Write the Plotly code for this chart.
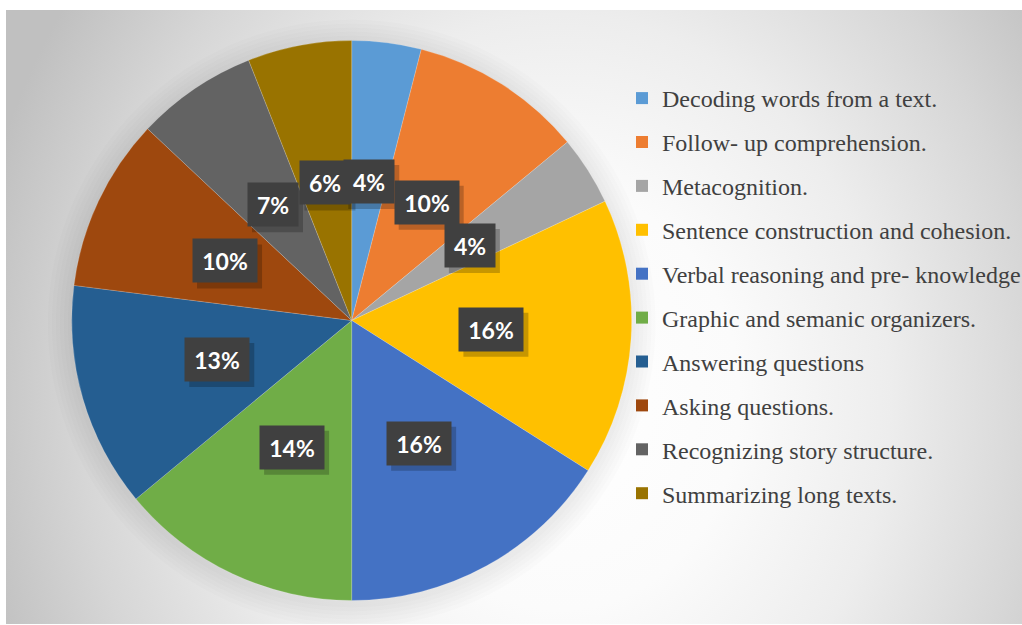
import math
import plotly.graph_objects as go

# Reading-strategy shares (percent of responses)
categories = [
    "Decoding words from a text.",
    "Follow- up comprehension.",
    "Metacognition.",
    "Sentence construction and cohesion.",
    "Verbal reasoning and pre- knowledge",
    "Graphic and semanic organizers.",
    "Answering questions",
    "Asking questions.",
    "Recognizing story structure.",
    "Summarizing long texts.",
]
shares = [4, 10, 4, 16, 16, 14, 13, 10, 7, 6]
slice_colors = [
    "#5B9BD5", "#ED7D31", "#A5A5A5", "#FFC000", "#4472C4",
    "#70AD47", "#255E91", "#9E480E", "#636363", "#997300",
]

W, H = 1022, 625
MARGIN = dict(l=6, r=0, t=10, b=1)
PW = W - MARGIN["l"] - MARGIN["r"]
PH = H - MARGIN["t"] - MARGIN["b"]

PIE_X = [0.0647, 0.6158]
PIE_Y = [0.0383, 0.9503]

total = sum(shares)
radius = min((PIE_X[1] - PIE_X[0]) * PW, (PIE_Y[1] - PIE_Y[0]) * PH) / 2
cx = (PIE_X[0] + PIE_X[1]) / 2
cy = (PIE_Y[0] + PIE_Y[1]) / 2

fig = go.Figure()

# radial grey backdrop behind the chart
fig.add_trace(go.Scatter(
    x=[-0.045, 1.136, 1.136, -0.045, -0.045],
    y=[-0.775, -0.775, 1.505, 1.505, -0.775],
    mode="lines", fill="toself", line=dict(width=0),
    fillgradient=dict(
        type="radial",
        colorscale=[[0, "#ffffff"], [0.3, "#fbfbfb"], [0.55, "#ededed"],
                    [0.8, "#d6d6d6"], [1, "#c0c0c0"]],
    ),
    hoverinfo="skip", showlegend=False,
))

# soft halo under the pie, built from faint stacked rings
steps = [math.radians(a) for a in range(0, 361, 3)]
for grow in (24, 20, 16, 12, 8, 4):
    r = radius + grow
    fig.add_trace(go.Scatter(
        x=[cx + r * math.cos(t) / PW for t in steps],
        y=[cy - 3 / PH + r * math.sin(t) / PH for t in steps],
        mode="lines", fill="toself", line=dict(width=0),
        fillcolor="rgba(0,0,0,0.011)", hoverinfo="skip", showlegend=False,
    ))

fig.add_trace(go.Pie(
    labels=categories, values=shares, sort=False, direction="clockwise",
    rotation=0, textinfo="none", hoverinfo="label+percent",
    marker=dict(colors=slice_colors, line=dict(color="rgba(255,255,255,0.3)", width=0.6)),
    domain=dict(x=PIE_X, y=PIE_Y), showlegend=False,
))

# legend entries, one group each so the spacing can be set
for name, col in zip(categories, slice_colors):
    fig.add_trace(go.Scatter(
        x=[None], y=[None], mode="markers", name=name, legendgroup=name,
        marker=dict(symbol="square", size=12, color=col),
    ))

# percentage labels half-way out along each slice's bisector
annotations = []
shapes = [dict(type="rect", xref="paper", yref="paper", layer="below",
               x0=(634 - MARGIN["l"]) / PW, x1=1.02,
               y0=1 - (516 - MARGIN["t"]) / PH, y1=1 - (77 - MARGIN["t"]) / PH,
               fillcolor="rgba(255,255,255,0.6)", line=dict(width=0))]
cum = 0
label_font = dict(family="Lato", size=23, color="#ffffff")
BOX_H = 43
for v in shares:
    mid = (cum + v / 2) / total * 2 * math.pi
    cum += v
    lx = cx + 0.5 * radius * math.sin(mid) / PW
    ly = cy + 0.5 * radius * math.cos(mid) / PH
    txt = f"{v}%"
    box_w = 14 * len(txt) + 22
    # offset shadow behind each label box
    shapes.append(dict(type="rect", xref="paper", yref="paper", layer="above",
                       xsizemode="pixel", ysizemode="pixel", xanchor=lx, yanchor=ly,
                       x0=-box_w / 2 + 4, x1=box_w / 2 + 5,
                       y0=-BOX_H / 2 - 6, y1=BOX_H / 2 - 5,
                       fillcolor="rgba(0,0,0,0.22)", line=dict(width=0)))
    annotations.append(dict(text=f"<b>{txt}</b>", font=label_font, bgcolor="#404040",
                            xref="paper", yref="paper", x=lx, y=ly, showarrow=False,
                            width=box_w - 8, height=BOX_H - 8, borderpad=4,
                            xanchor="center", yanchor="middle"))

fig.update_layout(
    width=W, height=H, margin=dict(**MARGIN, autoexpand=False),
    paper_bgcolor="#ffffff", plot_bgcolor="rgba(0,0,0,0)",
    xaxis=dict(range=[0, 1], visible=False, fixedrange=True),
    yaxis=dict(range=[0, 1], visible=False, fixedrange=True),
    showlegend=True,
    legend=dict(
        x=(622 - MARGIN["l"]) / PW, y=1 - (76 - MARGIN["t"]) / PH,
        xanchor="left", yanchor="top",
        font=dict(family="Liberation Serif", size=24, color="#404040"),
        bgcolor="rgba(0,0,0,0)", traceorder="grouped", tracegroupgap=9.7,
        itemclick=False, itemdoubleclick=False,
    ),
    shapes=shapes,
    annotations=annotations,
)

fig.write_html("out.html")
